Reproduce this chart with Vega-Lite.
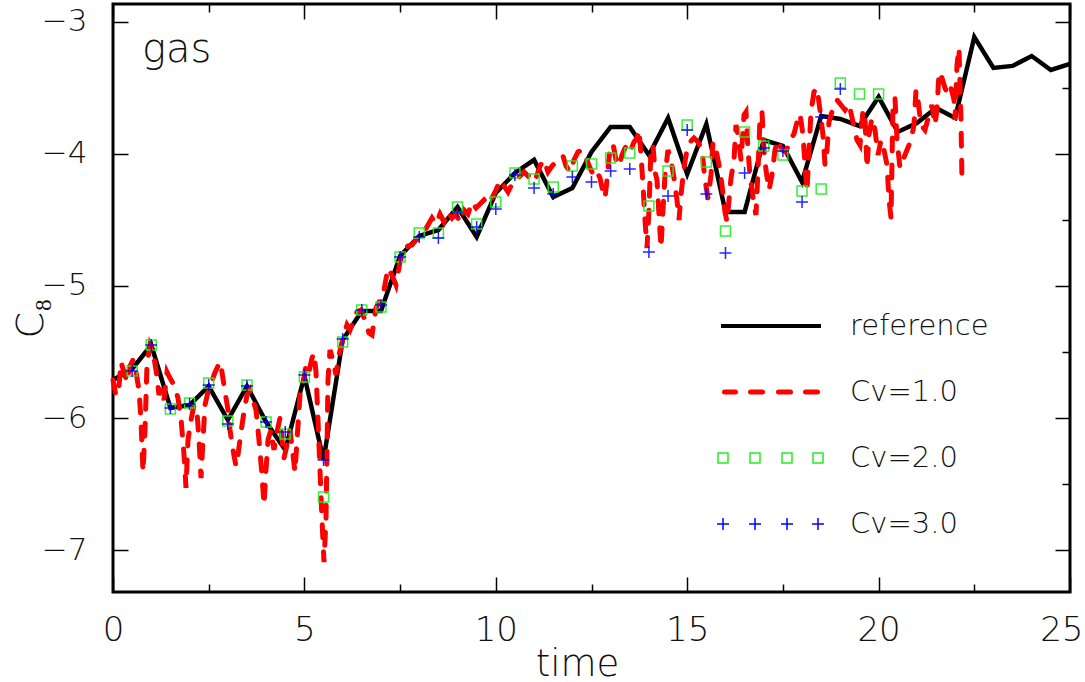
{
  "$schema": "https://vega.github.io/schema/vega-lite/v6.json",
  "width": 957,
  "height": 588,
  "autosize": "none",
  "padding": {"left": 113, "top": 4, "right": 15, "bottom": 90},
  "background": "white",
  "datasets": {
    "ref": [
      {"time": 0, "C": -5.712, "series": "reference"},
      {"time": 0.5, "C": -5.629, "series": "reference"},
      {"time": 1, "C": -5.447, "series": "reference"},
      {"time": 1.5, "C": -5.924, "series": "reference"},
      {"time": 2, "C": -5.902, "series": "reference"},
      {"time": 2.5, "C": -5.758, "series": "reference"},
      {"time": 3, "C": -6.015, "series": "reference"},
      {"time": 3.5, "C": -5.758, "series": "reference"},
      {"time": 4, "C": -6.03, "series": "reference"},
      {"time": 4.5, "C": -6.242, "series": "reference"},
      {"time": 5, "C": -5.682, "series": "reference"},
      {"time": 5.5, "C": -6.318, "series": "reference"},
      {"time": 6, "C": -5.409, "series": "reference"},
      {"time": 6.5, "C": -5.189, "series": "reference"},
      {"time": 7, "C": -5.189, "series": "reference"},
      {"time": 7.5, "C": -4.773, "series": "reference"},
      {"time": 8, "C": -4.621, "series": "reference"},
      {"time": 8.5, "C": -4.576, "series": "reference"},
      {"time": 9, "C": -4.402, "series": "reference"},
      {"time": 9.5, "C": -4.629, "series": "reference"},
      {"time": 10, "C": -4.295, "series": "reference"},
      {"time": 10.5, "C": -4.144, "series": "reference"},
      {"time": 11, "C": -4.045, "series": "reference"},
      {"time": 11.5, "C": -4.326, "series": "reference"},
      {"time": 12, "C": -4.258, "series": "reference"},
      {"time": 12.5, "C": -3.985, "series": "reference"},
      {"time": 13, "C": -3.795, "series": "reference"},
      {"time": 13.5, "C": -3.795, "series": "reference"},
      {"time": 14, "C": -4.008, "series": "reference"},
      {"time": 14.5, "C": -3.727, "series": "reference"},
      {"time": 15, "C": -4.152, "series": "reference"},
      {"time": 15.5, "C": -3.773, "series": "reference"},
      {"time": 16, "C": -4.439, "series": "reference"},
      {"time": 16.5, "C": -4.439, "series": "reference"},
      {"time": 17, "C": -3.894, "series": "reference"},
      {"time": 17.5, "C": -3.939, "series": "reference"},
      {"time": 18, "C": -4.212, "series": "reference"},
      {"time": 18.5, "C": -3.712, "series": "reference"},
      {"time": 19, "C": -3.735, "series": "reference"},
      {"time": 19.5, "C": -3.788, "series": "reference"},
      {"time": 20, "C": -3.568, "series": "reference"},
      {"time": 20.5, "C": -3.833, "series": "reference"},
      {"time": 21, "C": -3.765, "series": "reference"},
      {"time": 21.5, "C": -3.652, "series": "reference"},
      {"time": 22, "C": -3.727, "series": "reference"},
      {"time": 22.5, "C": -3.114, "series": "reference"},
      {"time": 23, "C": -3.348, "series": "reference"},
      {"time": 23.5, "C": -3.333, "series": "reference"},
      {"time": 24, "C": -3.258, "series": "reference"},
      {"time": 24.5, "C": -3.364, "series": "reference"},
      {"time": 25, "C": -3.318, "series": "reference"}
    ],
    "cv1": [
      {"time": 0, "C": -5.712, "series": "Cv=1.0"},
      {"time": 0.078, "C": -5.833, "series": "Cv=1.0"},
      {"time": 0.157, "C": -5.758, "series": "Cv=1.0"},
      {"time": 0.209, "C": -5.576, "series": "Cv=1.0"},
      {"time": 0.287, "C": -5.652, "series": "Cv=1.0"},
      {"time": 0.366, "C": -5.727, "series": "Cv=1.0"},
      {"time": 0.444, "C": -5.606, "series": "Cv=1.0"},
      {"time": 0.522, "C": -5.561, "series": "Cv=1.0"},
      {"time": 0.601, "C": -5.652, "series": "Cv=1.0"},
      {"time": 0.679, "C": -5.788, "series": "Cv=1.0"},
      {"time": 0.731, "C": -6.015, "series": "Cv=1.0"},
      {"time": 0.784, "C": -6.409, "series": "Cv=1.0"},
      {"time": 0.836, "C": -6.091, "series": "Cv=1.0"},
      {"time": 0.888, "C": -5.598, "series": "Cv=1.0"},
      {"time": 0.967, "C": -5.447, "series": "Cv=1.0"},
      {"time": 1.045, "C": -5.5, "series": "Cv=1.0"},
      {"time": 1.123, "C": -5.636, "series": "Cv=1.0"},
      {"time": 1.202, "C": -5.826, "series": "Cv=1.0"},
      {"time": 1.254, "C": -5.773, "series": "Cv=1.0"},
      {"time": 1.332, "C": -5.864, "series": "Cv=1.0"},
      {"time": 1.411, "C": -5.652, "series": "Cv=1.0"},
      {"time": 1.489, "C": -5.697, "series": "Cv=1.0"},
      {"time": 1.594, "C": -5.75, "series": "Cv=1.0"},
      {"time": 1.698, "C": -5.848, "series": "Cv=1.0"},
      {"time": 1.776, "C": -6.0, "series": "Cv=1.0"},
      {"time": 1.855, "C": -6.28, "series": "Cv=1.0"},
      {"time": 1.907, "C": -6.53, "series": "Cv=1.0"},
      {"time": 1.959, "C": -6.167, "series": "Cv=1.0"},
      {"time": 2.038, "C": -6.015, "series": "Cv=1.0"},
      {"time": 2.116, "C": -5.902, "series": "Cv=1.0"},
      {"time": 2.194, "C": -5.955, "series": "Cv=1.0"},
      {"time": 2.247, "C": -6.167, "series": "Cv=1.0"},
      {"time": 2.299, "C": -6.455, "series": "Cv=1.0"},
      {"time": 2.351, "C": -6.167, "series": "Cv=1.0"},
      {"time": 2.403, "C": -5.902, "series": "Cv=1.0"},
      {"time": 2.482, "C": -5.803, "series": "Cv=1.0"},
      {"time": 2.56, "C": -5.75, "series": "Cv=1.0"},
      {"time": 2.638, "C": -5.674, "series": "Cv=1.0"},
      {"time": 2.717, "C": -5.621, "series": "Cv=1.0"},
      {"time": 2.795, "C": -5.576, "series": "Cv=1.0"},
      {"time": 2.847, "C": -5.652, "series": "Cv=1.0"},
      {"time": 2.926, "C": -5.803, "series": "Cv=1.0"},
      {"time": 3.004, "C": -5.939, "series": "Cv=1.0"},
      {"time": 3.056, "C": -6.091, "series": "Cv=1.0"},
      {"time": 3.135, "C": -6.242, "series": "Cv=1.0"},
      {"time": 3.213, "C": -6.364, "series": "Cv=1.0"},
      {"time": 3.265, "C": -6.28, "series": "Cv=1.0"},
      {"time": 3.344, "C": -6.106, "series": "Cv=1.0"},
      {"time": 3.422, "C": -5.955, "series": "Cv=1.0"},
      {"time": 3.5, "C": -5.826, "series": "Cv=1.0"},
      {"time": 3.579, "C": -5.788, "series": "Cv=1.0"},
      {"time": 3.657, "C": -5.864, "series": "Cv=1.0"},
      {"time": 3.736, "C": -5.939, "series": "Cv=1.0"},
      {"time": 3.814, "C": -6.167, "series": "Cv=1.0"},
      {"time": 3.892, "C": -6.432, "series": "Cv=1.0"},
      {"time": 3.945, "C": -6.659, "series": "Cv=1.0"},
      {"time": 3.997, "C": -6.394, "series": "Cv=1.0"},
      {"time": 4.049, "C": -6.167, "series": "Cv=1.0"},
      {"time": 4.127, "C": -6.091, "series": "Cv=1.0"},
      {"time": 4.206, "C": -6.242, "series": "Cv=1.0"},
      {"time": 4.284, "C": -6.106, "series": "Cv=1.0"},
      {"time": 4.363, "C": -6.0, "series": "Cv=1.0"},
      {"time": 4.415, "C": -6.167, "series": "Cv=1.0"},
      {"time": 4.467, "C": -6.303, "series": "Cv=1.0"},
      {"time": 4.545, "C": -6.205, "series": "Cv=1.0"},
      {"time": 4.624, "C": -6.091, "series": "Cv=1.0"},
      {"time": 4.702, "C": -6.28, "series": "Cv=1.0"},
      {"time": 4.754, "C": -6.409, "series": "Cv=1.0"},
      {"time": 4.807, "C": -6.167, "series": "Cv=1.0"},
      {"time": 4.885, "C": -5.826, "series": "Cv=1.0"},
      {"time": 4.963, "C": -5.75, "series": "Cv=1.0"},
      {"time": 5.042, "C": -5.598, "series": "Cv=1.0"},
      {"time": 5.12, "C": -5.652, "series": "Cv=1.0"},
      {"time": 5.198, "C": -5.545, "series": "Cv=1.0"},
      {"time": 5.251, "C": -5.508, "series": "Cv=1.0"},
      {"time": 5.303, "C": -5.652, "series": "Cv=1.0"},
      {"time": 5.355, "C": -6.015, "series": "Cv=1.0"},
      {"time": 5.407, "C": -6.394, "series": "Cv=1.0"},
      {"time": 5.46, "C": -6.773, "series": "Cv=1.0"},
      {"time": 5.512, "C": -7.091, "series": "Cv=1.0"},
      {"time": 5.564, "C": -6.773, "series": "Cv=1.0"},
      {"time": 5.616, "C": -5.712, "series": "Cv=1.0"},
      {"time": 5.669, "C": -5.485, "series": "Cv=1.0"},
      {"time": 5.747, "C": -5.561, "series": "Cv=1.0"},
      {"time": 5.825, "C": -5.674, "series": "Cv=1.0"},
      {"time": 5.904, "C": -5.523, "series": "Cv=1.0"},
      {"time": 6.008, "C": -5.394, "series": "Cv=1.0"},
      {"time": 6.113, "C": -5.295, "series": "Cv=1.0"},
      {"time": 6.191, "C": -5.333, "series": "Cv=1.0"},
      {"time": 6.27, "C": -5.273, "series": "Cv=1.0"},
      {"time": 6.374, "C": -5.197, "series": "Cv=1.0"},
      {"time": 6.478, "C": -5.182, "series": "Cv=1.0"},
      {"time": 6.583, "C": -5.258, "series": "Cv=1.0"},
      {"time": 6.687, "C": -5.356, "series": "Cv=1.0"},
      {"time": 6.766, "C": -5.371, "series": "Cv=1.0"},
      {"time": 6.87, "C": -5.167, "series": "Cv=1.0"},
      {"time": 6.975, "C": -5.106, "series": "Cv=1.0"},
      {"time": 7.079, "C": -5.03, "series": "Cv=1.0"},
      {"time": 7.184, "C": -4.864, "series": "Cv=1.0"},
      {"time": 7.288, "C": -4.917, "series": "Cv=1.0"},
      {"time": 7.393, "C": -4.992, "series": "Cv=1.0"},
      {"time": 7.497, "C": -4.818, "series": "Cv=1.0"},
      {"time": 7.602, "C": -4.727, "series": "Cv=1.0"},
      {"time": 7.706, "C": -4.697, "series": "Cv=1.0"},
      {"time": 7.811, "C": -4.689, "series": "Cv=1.0"},
      {"time": 7.915, "C": -4.652, "series": "Cv=1.0"},
      {"time": 8.02, "C": -4.636, "series": "Cv=1.0"},
      {"time": 8.124, "C": -4.591, "series": "Cv=1.0"},
      {"time": 8.229, "C": -4.538, "series": "Cv=1.0"},
      {"time": 8.333, "C": -4.485, "series": "Cv=1.0"},
      {"time": 8.438, "C": -4.53, "series": "Cv=1.0"},
      {"time": 8.542, "C": -4.455, "series": "Cv=1.0"},
      {"time": 8.647, "C": -4.515, "series": "Cv=1.0"},
      {"time": 8.751, "C": -4.439, "series": "Cv=1.0"},
      {"time": 8.856, "C": -4.485, "series": "Cv=1.0"},
      {"time": 8.96, "C": -4.455, "series": "Cv=1.0"},
      {"time": 9.065, "C": -4.515, "series": "Cv=1.0"},
      {"time": 9.169, "C": -4.424, "series": "Cv=1.0"},
      {"time": 9.274, "C": -4.455, "series": "Cv=1.0"},
      {"time": 9.378, "C": -4.364, "series": "Cv=1.0"},
      {"time": 9.483, "C": -4.409, "series": "Cv=1.0"},
      {"time": 9.587, "C": -4.379, "series": "Cv=1.0"},
      {"time": 9.692, "C": -4.348, "series": "Cv=1.0"},
      {"time": 9.796, "C": -4.386, "series": "Cv=1.0"},
      {"time": 9.901, "C": -4.333, "series": "Cv=1.0"},
      {"time": 10.005, "C": -4.273, "series": "Cv=1.0"},
      {"time": 10.11, "C": -4.197, "series": "Cv=1.0"},
      {"time": 10.214, "C": -4.242, "series": "Cv=1.0"},
      {"time": 10.319, "C": -4.288, "series": "Cv=1.0"},
      {"time": 10.423, "C": -4.227, "series": "Cv=1.0"},
      {"time": 10.528, "C": -4.212, "series": "Cv=1.0"},
      {"time": 10.632, "C": -4.167, "series": "Cv=1.0"},
      {"time": 10.737, "C": -4.136, "series": "Cv=1.0"},
      {"time": 10.841, "C": -4.167, "series": "Cv=1.0"},
      {"time": 10.945, "C": -4.136, "series": "Cv=1.0"},
      {"time": 11.05, "C": -4.182, "series": "Cv=1.0"},
      {"time": 11.154, "C": -4.091, "series": "Cv=1.0"},
      {"time": 11.259, "C": -4.045, "series": "Cv=1.0"},
      {"time": 11.363, "C": -4.136, "series": "Cv=1.0"},
      {"time": 11.468, "C": -4.091, "series": "Cv=1.0"},
      {"time": 11.572, "C": -4.061, "series": "Cv=1.0"},
      {"time": 11.677, "C": -4.045, "series": "Cv=1.0"},
      {"time": 11.755, "C": -4.015, "series": "Cv=1.0"},
      {"time": 11.834, "C": -4.091, "series": "Cv=1.0"},
      {"time": 11.938, "C": -4.136, "series": "Cv=1.0"},
      {"time": 12.043, "C": -4.045, "series": "Cv=1.0"},
      {"time": 12.147, "C": -3.985, "series": "Cv=1.0"},
      {"time": 12.252, "C": -3.97, "series": "Cv=1.0"},
      {"time": 12.356, "C": -4.03, "series": "Cv=1.0"},
      {"time": 12.461, "C": -4.106, "series": "Cv=1.0"},
      {"time": 12.565, "C": -4.167, "series": "Cv=1.0"},
      {"time": 12.644, "C": -4.136, "series": "Cv=1.0"},
      {"time": 12.722, "C": -4.182, "series": "Cv=1.0"},
      {"time": 12.8, "C": -4.288, "series": "Cv=1.0"},
      {"time": 12.853, "C": -4.333, "series": "Cv=1.0"},
      {"time": 12.905, "C": -4.197, "series": "Cv=1.0"},
      {"time": 12.983, "C": -3.955, "series": "Cv=1.0"},
      {"time": 13.062, "C": -3.924, "series": "Cv=1.0"},
      {"time": 13.14, "C": -4.045, "series": "Cv=1.0"},
      {"time": 13.218, "C": -4.091, "series": "Cv=1.0"},
      {"time": 13.297, "C": -4.008, "series": "Cv=1.0"},
      {"time": 13.375, "C": -3.955, "series": "Cv=1.0"},
      {"time": 13.453, "C": -3.924, "series": "Cv=1.0"},
      {"time": 13.532, "C": -3.97, "series": "Cv=1.0"},
      {"time": 13.61, "C": -3.909, "series": "Cv=1.0"},
      {"time": 13.688, "C": -3.879, "series": "Cv=1.0"},
      {"time": 13.741, "C": -3.818, "series": "Cv=1.0"},
      {"time": 13.793, "C": -4.008, "series": "Cv=1.0"},
      {"time": 13.845, "C": -4.235, "series": "Cv=1.0"},
      {"time": 13.897, "C": -4.5, "series": "Cv=1.0"},
      {"time": 13.95, "C": -4.712, "series": "Cv=1.0"},
      {"time": 14.002, "C": -4.424, "series": "Cv=1.0"},
      {"time": 14.054, "C": -3.955, "series": "Cv=1.0"},
      {"time": 14.106, "C": -3.932, "series": "Cv=1.0"},
      {"time": 14.159, "C": -4.136, "series": "Cv=1.0"},
      {"time": 14.211, "C": -4.197, "series": "Cv=1.0"},
      {"time": 14.263, "C": -4.462, "series": "Cv=1.0"},
      {"time": 14.315, "C": -4.712, "series": "Cv=1.0"},
      {"time": 14.368, "C": -4.424, "series": "Cv=1.0"},
      {"time": 14.42, "C": -4.159, "series": "Cv=1.0"},
      {"time": 14.498, "C": -3.97, "series": "Cv=1.0"},
      {"time": 14.576, "C": -4.045, "series": "Cv=1.0"},
      {"time": 14.655, "C": -4.182, "series": "Cv=1.0"},
      {"time": 14.733, "C": -4.348, "series": "Cv=1.0"},
      {"time": 14.785, "C": -4.5, "series": "Cv=1.0"},
      {"time": 14.838, "C": -4.311, "series": "Cv=1.0"},
      {"time": 14.916, "C": -4.106, "series": "Cv=1.0"},
      {"time": 14.995, "C": -3.97, "series": "Cv=1.0"},
      {"time": 15.073, "C": -3.909, "series": "Cv=1.0"},
      {"time": 15.177, "C": -3.879, "series": "Cv=1.0"},
      {"time": 15.282, "C": -3.909, "series": "Cv=1.0"},
      {"time": 15.386, "C": -3.97, "series": "Cv=1.0"},
      {"time": 15.465, "C": -4.197, "series": "Cv=1.0"},
      {"time": 15.543, "C": -4.333, "series": "Cv=1.0"},
      {"time": 15.622, "C": -4.159, "series": "Cv=1.0"},
      {"time": 15.674, "C": -3.909, "series": "Cv=1.0"},
      {"time": 15.752, "C": -3.97, "series": "Cv=1.0"},
      {"time": 15.831, "C": -4.083, "series": "Cv=1.0"},
      {"time": 15.909, "C": -4.235, "series": "Cv=1.0"},
      {"time": 15.987, "C": -4.439, "series": "Cv=1.0"},
      {"time": 16.04, "C": -4.515, "series": "Cv=1.0"},
      {"time": 16.092, "C": -4.348, "series": "Cv=1.0"},
      {"time": 16.144, "C": -4.182, "series": "Cv=1.0"},
      {"time": 16.223, "C": -4.045, "series": "Cv=1.0"},
      {"time": 16.275, "C": -3.78, "series": "Cv=1.0"},
      {"time": 16.327, "C": -3.856, "series": "Cv=1.0"},
      {"time": 16.406, "C": -4.045, "series": "Cv=1.0"},
      {"time": 16.484, "C": -3.705, "series": "Cv=1.0"},
      {"time": 16.536, "C": -3.682, "series": "Cv=1.0"},
      {"time": 16.588, "C": -3.97, "series": "Cv=1.0"},
      {"time": 16.64, "C": -4.159, "series": "Cv=1.0"},
      {"time": 16.693, "C": -4.273, "series": "Cv=1.0"},
      {"time": 16.745, "C": -4.386, "series": "Cv=1.0"},
      {"time": 16.797, "C": -4.462, "series": "Cv=1.0"},
      {"time": 16.85, "C": -4.121, "series": "Cv=1.0"},
      {"time": 16.902, "C": -3.727, "series": "Cv=1.0"},
      {"time": 16.954, "C": -3.682, "series": "Cv=1.0"},
      {"time": 17.006, "C": -3.97, "series": "Cv=1.0"},
      {"time": 17.058, "C": -4.121, "series": "Cv=1.0"},
      {"time": 17.137, "C": -4.273, "series": "Cv=1.0"},
      {"time": 17.215, "C": -4.159, "series": "Cv=1.0"},
      {"time": 17.293, "C": -3.97, "series": "Cv=1.0"},
      {"time": 17.372, "C": -3.894, "series": "Cv=1.0"},
      {"time": 17.476, "C": -3.97, "series": "Cv=1.0"},
      {"time": 17.581, "C": -3.985, "series": "Cv=1.0"},
      {"time": 17.685, "C": -3.894, "series": "Cv=1.0"},
      {"time": 17.79, "C": -3.848, "series": "Cv=1.0"},
      {"time": 17.868, "C": -3.758, "series": "Cv=1.0"},
      {"time": 17.947, "C": -3.697, "series": "Cv=1.0"},
      {"time": 18.025, "C": -3.856, "series": "Cv=1.0"},
      {"time": 18.077, "C": -4.083, "series": "Cv=1.0"},
      {"time": 18.129, "C": -4.288, "series": "Cv=1.0"},
      {"time": 18.182, "C": -3.97, "series": "Cv=1.0"},
      {"time": 18.234, "C": -3.682, "series": "Cv=1.0"},
      {"time": 18.312, "C": -3.53, "series": "Cv=1.0"},
      {"time": 18.391, "C": -3.5, "series": "Cv=1.0"},
      {"time": 18.469, "C": -3.667, "series": "Cv=1.0"},
      {"time": 18.547, "C": -3.856, "series": "Cv=1.0"},
      {"time": 18.6, "C": -4.083, "series": "Cv=1.0"},
      {"time": 18.652, "C": -3.97, "series": "Cv=1.0"},
      {"time": 18.704, "C": -3.758, "series": "Cv=1.0"},
      {"time": 18.809, "C": -3.652, "series": "Cv=1.0"},
      {"time": 18.913, "C": -3.591, "series": "Cv=1.0"},
      {"time": 19.018, "C": -3.629, "series": "Cv=1.0"},
      {"time": 19.122, "C": -3.667, "series": "Cv=1.0"},
      {"time": 19.227, "C": -3.621, "series": "Cv=1.0"},
      {"time": 19.331, "C": -3.758, "series": "Cv=1.0"},
      {"time": 19.436, "C": -3.894, "series": "Cv=1.0"},
      {"time": 19.514, "C": -3.932, "series": "Cv=1.0"},
      {"time": 19.592, "C": -3.667, "series": "Cv=1.0"},
      {"time": 19.645, "C": -3.727, "series": "Cv=1.0"},
      {"time": 19.697, "C": -4.106, "series": "Cv=1.0"},
      {"time": 19.749, "C": -3.856, "series": "Cv=1.0"},
      {"time": 19.827, "C": -3.727, "series": "Cv=1.0"},
      {"time": 19.906, "C": -3.818, "series": "Cv=1.0"},
      {"time": 19.984, "C": -4.008, "series": "Cv=1.0"},
      {"time": 20.063, "C": -3.894, "series": "Cv=1.0"},
      {"time": 20.141, "C": -3.97, "series": "Cv=1.0"},
      {"time": 20.219, "C": -4.083, "series": "Cv=1.0"},
      {"time": 20.272, "C": -4.348, "series": "Cv=1.0"},
      {"time": 20.324, "C": -4.485, "series": "Cv=1.0"},
      {"time": 20.376, "C": -3.629, "series": "Cv=1.0"},
      {"time": 20.428, "C": -3.576, "series": "Cv=1.0"},
      {"time": 20.481, "C": -3.894, "series": "Cv=1.0"},
      {"time": 20.559, "C": -4.106, "series": "Cv=1.0"},
      {"time": 20.637, "C": -4.045, "series": "Cv=1.0"},
      {"time": 20.742, "C": -3.97, "series": "Cv=1.0"},
      {"time": 20.846, "C": -3.894, "series": "Cv=1.0"},
      {"time": 20.925, "C": -3.78, "series": "Cv=1.0"},
      {"time": 20.977, "C": -3.515, "series": "Cv=1.0"},
      {"time": 21.029, "C": -3.591, "series": "Cv=1.0"},
      {"time": 21.107, "C": -3.78, "series": "Cv=1.0"},
      {"time": 21.212, "C": -3.818, "series": "Cv=1.0"},
      {"time": 21.316, "C": -3.705, "series": "Cv=1.0"},
      {"time": 21.395, "C": -3.629, "series": "Cv=1.0"},
      {"time": 21.473, "C": -3.78, "series": "Cv=1.0"},
      {"time": 21.525, "C": -3.667, "series": "Cv=1.0"},
      {"time": 21.578, "C": -3.379, "series": "Cv=1.0"},
      {"time": 21.656, "C": -3.424, "series": "Cv=1.0"},
      {"time": 21.734, "C": -3.5, "series": "Cv=1.0"},
      {"time": 21.813, "C": -3.553, "series": "Cv=1.0"},
      {"time": 21.891, "C": -3.5, "series": "Cv=1.0"},
      {"time": 21.97, "C": -3.591, "series": "Cv=1.0"},
      {"time": 21.996, "C": -3.742, "series": "Cv=1.0"},
      {"time": 22.048, "C": -3.326, "series": "Cv=1.0"},
      {"time": 22.1, "C": -3.197, "series": "Cv=1.0"},
      {"time": 22.152, "C": -3.742, "series": "Cv=1.0"},
      {"time": 22.178, "C": -4.197, "series": "Cv=1.0"}
    ],
    "cv2": [
      {"time": 0.5, "C": -5.644, "series": "Cv=2.0"},
      {"time": 1, "C": -5.447, "series": "Cv=2.0"},
      {"time": 1.5, "C": -5.932, "series": "Cv=2.0"},
      {"time": 2, "C": -5.886, "series": "Cv=2.0"},
      {"time": 2.5, "C": -5.735, "series": "Cv=2.0"},
      {"time": 3, "C": -6.023, "series": "Cv=2.0"},
      {"time": 3.5, "C": -5.75, "series": "Cv=2.0"},
      {"time": 4, "C": -6.03, "series": "Cv=2.0"},
      {"time": 4.5, "C": -6.121, "series": "Cv=2.0"},
      {"time": 5, "C": -5.689, "series": "Cv=2.0"},
      {"time": 5.5, "C": -6.598, "series": "Cv=2.0"},
      {"time": 6, "C": -5.424, "series": "Cv=2.0"},
      {"time": 6.5, "C": -5.182, "series": "Cv=2.0"},
      {"time": 7, "C": -5.159, "series": "Cv=2.0"},
      {"time": 7.5, "C": -4.78, "series": "Cv=2.0"},
      {"time": 8, "C": -4.598, "series": "Cv=2.0"},
      {"time": 8.5, "C": -4.598, "series": "Cv=2.0"},
      {"time": 9, "C": -4.402, "series": "Cv=2.0"},
      {"time": 9.5, "C": -4.53, "series": "Cv=2.0"},
      {"time": 10, "C": -4.364, "series": "Cv=2.0"},
      {"time": 10.5, "C": -4.144, "series": "Cv=2.0"},
      {"time": 11, "C": -4.189, "series": "Cv=2.0"},
      {"time": 11.5, "C": -4.25, "series": "Cv=2.0"},
      {"time": 12, "C": -4.091, "series": "Cv=2.0"},
      {"time": 12.5, "C": -4.076, "series": "Cv=2.0"},
      {"time": 13, "C": -4.03, "series": "Cv=2.0"},
      {"time": 13.5, "C": -3.992, "series": "Cv=2.0"},
      {"time": 14, "C": -4.394, "series": "Cv=2.0"},
      {"time": 14.5, "C": -4.129, "series": "Cv=2.0"},
      {"time": 15, "C": -3.78, "series": "Cv=2.0"},
      {"time": 15.5, "C": -4.061, "series": "Cv=2.0"},
      {"time": 16, "C": -4.583, "series": "Cv=2.0"},
      {"time": 16.5, "C": -3.833, "series": "Cv=2.0"},
      {"time": 17, "C": -3.939, "series": "Cv=2.0"},
      {"time": 17.5, "C": -4.008, "series": "Cv=2.0"},
      {"time": 18, "C": -4.28, "series": "Cv=2.0"},
      {"time": 18.5, "C": -4.265, "series": "Cv=2.0"},
      {"time": 19, "C": -3.462, "series": "Cv=2.0"},
      {"time": 19.5, "C": -3.545, "series": "Cv=2.0"},
      {"time": 20, "C": -3.545, "series": "Cv=2.0"}
    ],
    "cv3": [
      {"time": 0.5, "C": -5.644, "series": "Cv=3.0"},
      {"time": 1, "C": -5.447, "series": "Cv=3.0"},
      {"time": 1.5, "C": -5.924, "series": "Cv=3.0"},
      {"time": 2, "C": -5.894, "series": "Cv=3.0"},
      {"time": 2.5, "C": -5.75, "series": "Cv=3.0"},
      {"time": 3, "C": -6.045, "series": "Cv=3.0"},
      {"time": 3.5, "C": -5.758, "series": "Cv=3.0"},
      {"time": 4, "C": -6.03, "series": "Cv=3.0"},
      {"time": 4.5, "C": -6.106, "series": "Cv=3.0"},
      {"time": 5, "C": -5.674, "series": "Cv=3.0"},
      {"time": 5.5, "C": -6.318, "series": "Cv=3.0"},
      {"time": 6, "C": -5.402, "series": "Cv=3.0"},
      {"time": 6.5, "C": -5.182, "series": "Cv=3.0"},
      {"time": 7, "C": -5.144, "series": "Cv=3.0"},
      {"time": 7.5, "C": -4.78, "series": "Cv=3.0"},
      {"time": 8, "C": -4.629, "series": "Cv=3.0"},
      {"time": 8.5, "C": -4.636, "series": "Cv=3.0"},
      {"time": 9, "C": -4.439, "series": "Cv=3.0"},
      {"time": 9.5, "C": -4.553, "series": "Cv=3.0"},
      {"time": 10, "C": -4.417, "series": "Cv=3.0"},
      {"time": 10.5, "C": -4.159, "series": "Cv=3.0"},
      {"time": 11, "C": -4.258, "series": "Cv=3.0"},
      {"time": 11.5, "C": -4.303, "series": "Cv=3.0"},
      {"time": 12, "C": -4.174, "series": "Cv=3.0"},
      {"time": 12.5, "C": -4.212, "series": "Cv=3.0"},
      {"time": 13, "C": -4.129, "series": "Cv=3.0"},
      {"time": 13.5, "C": -4.114, "series": "Cv=3.0"},
      {"time": 14, "C": -4.742, "series": "Cv=3.0"},
      {"time": 14.5, "C": -4.318, "series": "Cv=3.0"},
      {"time": 15, "C": -3.818, "series": "Cv=3.0"},
      {"time": 15.5, "C": -4.303, "series": "Cv=3.0"},
      {"time": 16, "C": -4.75, "series": "Cv=3.0"},
      {"time": 16.5, "C": -4.144, "series": "Cv=3.0"},
      {"time": 17, "C": -3.955, "series": "Cv=3.0"},
      {"time": 17.5, "C": -3.977, "series": "Cv=3.0"},
      {"time": 18, "C": -4.364, "series": "Cv=3.0"},
      {"time": 18.5, "C": -3.72, "series": "Cv=3.0"},
      {"time": 19, "C": -3.508, "series": "Cv=3.0"}
    ],
    "note": [
      {"time": 0.758, "C": -3.303, "label": "gas"}
    ]
  },
  "layer": [
    {
      "data": {"name": "ref"},
      "mark": {"type": "line", "strokeWidth": 4.5, "strokeJoin": "miter"},
      "encoding": {
        "x": {"field": "time", "type": "quantitative", "scale": {"domain": [0, 25], "nice": false, "zero": false},
          "axis": {"orient": "bottom", "values": [0, 2.5, 5, 7.5, 10, 12.5, 15, 17.5, 20, 22.5, 25], "format": "d",
            "labelExpr": "datum.value % 5 === 0 ? datum.label : ''",
            "tickSize": {"condition": {"test": "datum.value % 5 === 0", "value": -15}, "value": -8},
            "labelAlign": {"condition": {"test": "datum.value === 25", "value": "right"}, "value": "center"},
            "labelOffset": {"condition": {"test": "datum.value === 25", "value": 13}, "value": 0},
            "labelPadding": 36, "labelFontSize": 34, "title": "time", "titleFontSize": 37,
            "titleBaseline": "alphabetic", "titleY": 83, "titleX": 464}},
        "y": {"field": "C", "type": "quantitative", "scale": {"domain": [-7.318, -2.864], "nice": false, "zero": false},
          "axis": {"orient": "left", "values": [-7, -6.5, -6, -5.5, -5, -4.5, -4, -3.5, -3], "format": "d",
            "labelExpr": "datum.value % 1 === 0 ? datum.label : ''",
            "tickSize": {"condition": {"test": "datum.value % 1 === 0", "value": -15}, "value": -8},
            "labelPadding": 41, "labelFontSize": 31, "title": "C₈", "titleFontSize": 38,
            "titleBaseline": "alphabetic", "titleX": -71, "titleY": 314, "titleAngle": -90}},
        "color": {"field": "series", "type": "nominal",
          "scale": {"domain": ["reference", "Cv=1.0", "Cv=2.0", "Cv=3.0"], "range": ["#000000", "#ff0000", "#22ee22", "#0000ff"]},
          "legend": {"orient": "none", "legendX": 607, "legendY": 271, "title": null, "symbolSize": 10000,
            "symbolStrokeWidth": 4, "symbolFillColor": "transparent", "labelFontSize": 29, "labelOffset": 28, "padding": 0, "rowPadding": -6,
            "labelLimit": 300,
            "encode": {"symbols": {"update": {
              "shape": {"signal": "(datum.value === 'reference' ? 'M-1,0H1' : datum.value === 'Cv=1.0' ? 'M-0.93,0H-0.71M-0.41,0H-0.17M0.15,0H0.39M0.69,0H0.93' : datum.value === 'Cv=2.0' ? 'M-1.06,-0.1H-0.86V0.1H-1.06ZM-0.42,-0.1H-0.22V0.1H-0.42ZM0.22,-0.1H0.42V0.1H0.22ZM0.84,-0.1H1.04V0.1H0.84Z' : 'M-1.08,0H-0.84M-0.96,-0.12V0.12M-0.44,0H-0.2M-0.32,-0.12V0.12M0.2,0H0.44M0.32,-0.12V0.12M0.82,0H1.06M0.94,-0.12V0.12')"},
              "size": {"value": 10000},
              "strokeWidth": {"signal": "(datum.value === 'reference' ? 4 : datum.value === 'Cv=1.0' ? 5 : 1.5)"},
              "stroke": {"signal": "(datum.value === 'reference' ? '#000000' : datum.value === 'Cv=1.0' ? '#ff0000' : datum.value === 'Cv=2.0' ? '#22ee22' : '#0000ff')"},
              "strokeCap": {"signal": "(datum.value === 'Cv=1.0' ? 'round' : 'butt')"},
              "fill": {"value": "transparent"},
              "opacity": {"value": 1}
            }}}
          }
        }
      }
    },
    {
      "data": {"name": "cv1"},
      "mark": {"type": "line", "strokeWidth": 5, "strokeDash": [13, 14], "strokeCap": "round"},
      "encoding": {
        "x": {"field": "time", "type": "quantitative", "axis": null},
        "y": {"field": "C", "type": "quantitative", "axis": null},
        "color": {"field": "series", "type": "nominal"}
      }
    },
    {
      "data": {"name": "cv2"},
      "mark": {"type": "point", "shape": "square", "filled": false, "size": 100, "strokeWidth": 1.5, "opacity": 0.9},
      "encoding": {
        "x": {"field": "time", "type": "quantitative", "axis": null},
        "y": {"field": "C", "type": "quantitative", "axis": null},
        "color": {"field": "series", "type": "nominal"}
      }
    },
    {
      "data": {"name": "cv3"},
      "mark": {"type": "point", "shape": "M-1,0H1M0,-1V1", "filled": false, "size": 144, "strokeWidth": 1.5, "opacity": 0.85},
      "encoding": {
        "x": {"field": "time", "type": "quantitative", "axis": null},
        "y": {"field": "C", "type": "quantitative", "axis": null},
        "color": {"field": "series", "type": "nominal"}
      }
    },
    {
      "data": {"name": "note"},
      "mark": {"type": "text", "align": "left", "baseline": "alphabetic", "fontSize": 40, "fontWeight": 200, "font": "DejaVu Sans", "color": "#111111"},
      "encoding": {
        "x": {"field": "time", "type": "quantitative", "axis": null},
        "y": {"field": "C", "type": "quantitative", "axis": null},
        "text": {"field": "label"}
      }
    },
    {
      "data": {"name": "ref"},
      "mark": {"type": "line", "opacity": 0},
      "encoding": {
        "x": {"field": "time", "type": "quantitative",
          "axis": {"orient": "top", "values": [0, 2.5, 5, 7.5, 10, 12.5, 15, 17.5, 20, 22.5, 25], "labels": false, "title": null,
            "tickSize": {"condition": {"test": "datum.value % 5 === 0", "value": -15}, "value": -8}}},
        "y": {"field": "C", "type": "quantitative",
          "axis": {"orient": "right", "values": [-7, -6.5, -6, -5.5, -5, -4.5, -4, -3.5, -3], "labels": false, "title": null,
            "tickSize": {"condition": {"test": "datum.value % 1 === 0", "value": -15}, "value": -8}}}
      }
    }
  ],
  "resolve": {"axis": {"x": "independent", "y": "independent"}},
  "config": {
    "font": "DejaVu Sans",
    "view": {"stroke": "#000000", "strokeWidth": 3},
    "axis": {"domain": false, "grid": false, "tickColor": "#000000", "tickWidth": 1.5,
      "labelFont": "DejaVu Sans", "labelFontWeight": 200, "labelColor": "#111111", "labelOverlap": false, "labelFlush": false,
      "titleFont": "DejaVu Sans", "titleFontWeight": 200, "titleColor": "#111111"},
    "legend": {"labelFont": "DejaVu Sans", "labelFontWeight": 200, "labelColor": "#111111"}
  }
}
